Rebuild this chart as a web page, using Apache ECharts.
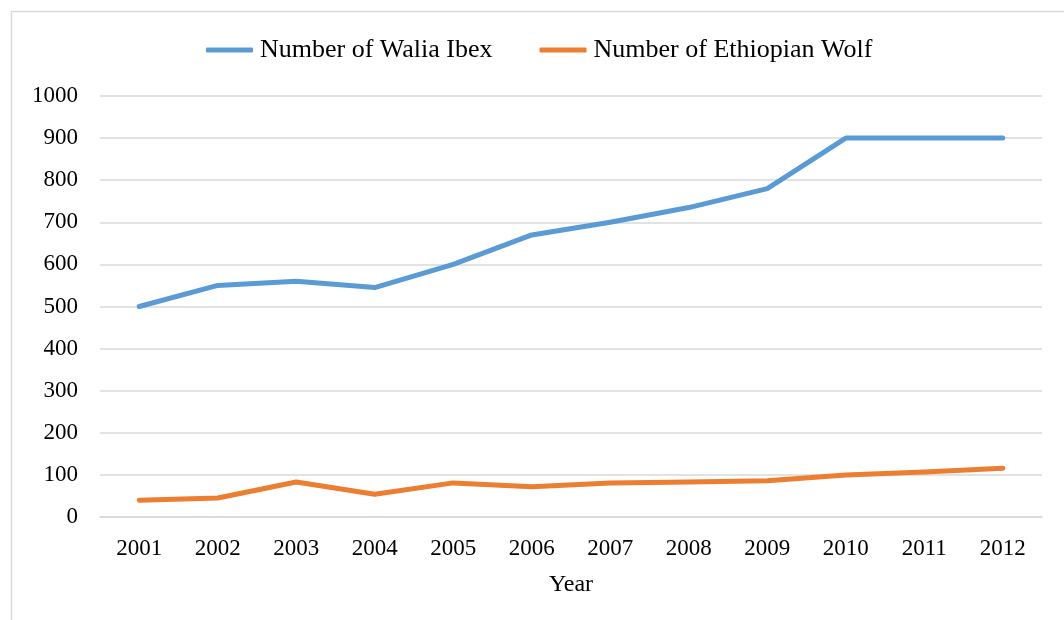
<!DOCTYPE html>
<html>
<head>
<meta charset="utf-8">
<script src="https://cdn.jsdelivr.net/npm/echarts@6/dist/echarts.min.js"></script>
<style>
  html, body { margin: 0; padding: 0; background: #fff; }
  #chart { width: 1064px; height: 620px; }
</style>
</head>
<body>
<div id="chart"></div>
<script>
// Population counts by year
const years = ['2001', '2002', '2003', '2004', '2005', '2006', '2007', '2008', '2009', '2010', '2011', '2012'];
const waliaIbex = [500, 550, 560, 545, 600, 670, 700, 735, 780, 900, 900, 900];
const ethiopianWolf = [40, 45, 83, 54, 81, 72, 81, 83, 86, 100, 107, 116];
const seriesNames = ['Number of Walia Ibex', 'Number of Ethiopian Wolf'];

const chart = echarts.init(document.getElementById('chart'));
const serif = '"Liberation Serif", "Times New Roman", serif';

chart.setOption({
  backgroundColor: '#fff',
  animation: false,
  graphic: [{
    type: 'rect',
    shape: { x: 11.5, y: 11.5, width: 1100, height: 700 },
    style: { fill: 'none', stroke: '#d9d9d9', lineWidth: 1.5 },
    silent: true
  }],
  legend: {
    top: 32,
    left: 201,
    icon: 'roundRect',
    itemWidth: 47,
    itemHeight: 5,
    itemGap: 47,
    textStyle: { fontFamily: serif, fontSize: 26, color: '#000', padding: [0, 0, 0, 2] },
    data: seriesNames
  },
  grid: { left: 100, right: 22, top: 96, bottom: 103 },
  xAxis: {
    type: 'category',
    data: years,
    boundaryGap: true,
    name: 'Year',
    nameLocation: 'middle',
    nameGap: 56,
    nameTextStyle: { fontFamily: serif, fontSize: 24, color: '#000' },
    axisLine: { lineStyle: { color: '#d9d9d9', width: 1.5 } },
    axisTick: { show: false },
    axisLabel: { fontFamily: serif, fontSize: 23, color: '#000', margin: 20 }
  },
  yAxis: {
    type: 'value',
    min: 0,
    max: 1000,
    interval: 100,
    axisLine: { show: false },
    axisTick: { show: false },
    splitLine: { lineStyle: { color: '#d9d9d9', width: 1.5 } },
    axisLabel: { fontFamily: serif, fontSize: 23, color: '#000', margin: 22, formatter: v => String(v) }
  },
  series: [
    {
      name: seriesNames[0],
      type: 'line',
      data: waliaIbex,
      symbol: 'none',
      color: '#5B9BD5',
      lineStyle: { width: 5, cap: 'round', join: 'round' }
    },
    {
      name: seriesNames[1],
      type: 'line',
      data: ethiopianWolf,
      symbol: 'none',
      color: '#ED7D31',
      lineStyle: { width: 5, cap: 'round', join: 'round' }
    }
  ]
});
</script>
</body>
</html>
